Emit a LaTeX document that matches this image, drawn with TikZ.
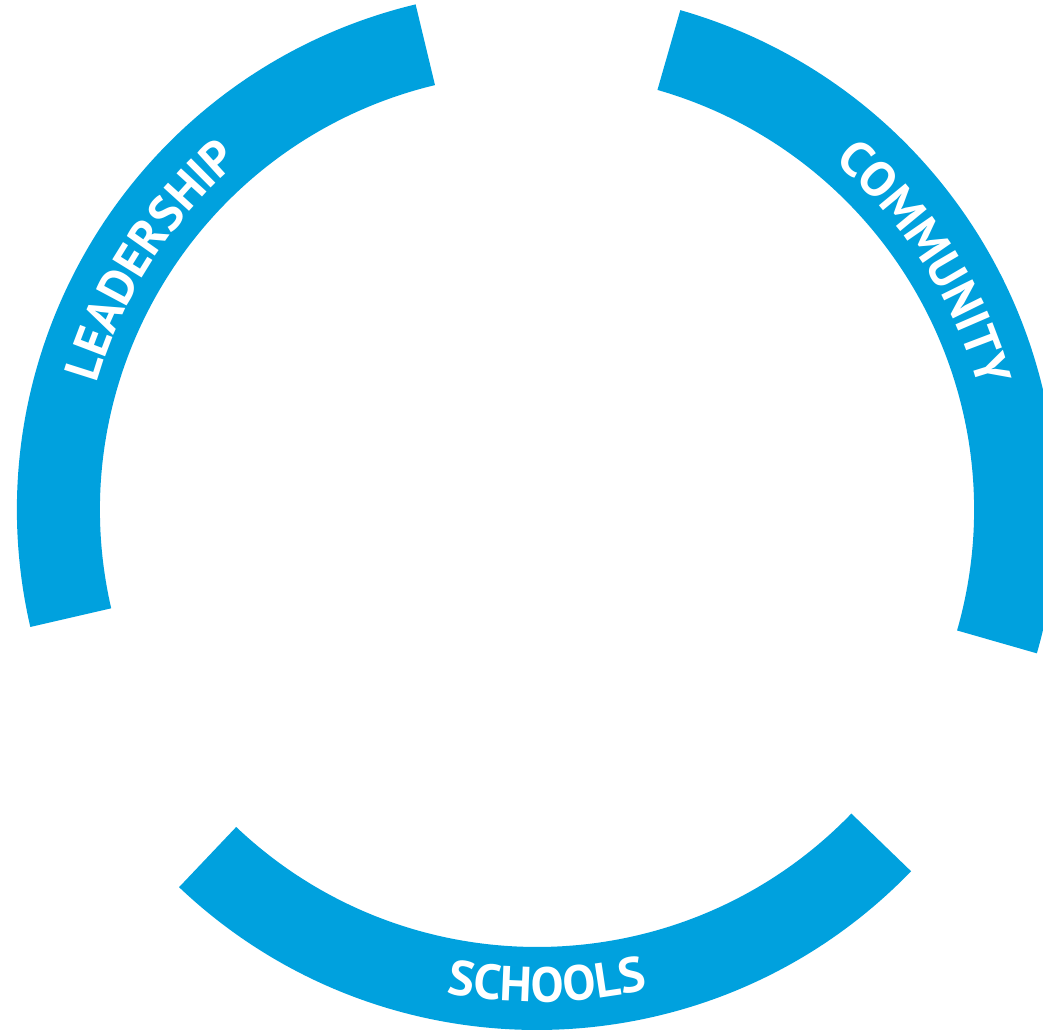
\documentclass[tikz,border=0pt]{standalone}
\usepackage{fontspec}
\newfontfamily\ringfont{PT Sans}
\usetikzlibrary{decorations.text}
\definecolor{ringblue}{RGB}{0,161,222}
\tikzset{band/.style={fill=ringblue}}
\newcommand{\ringlabel}{\ringfont\bfseries\fontsize{28}{28}\selectfont}

\begin{document}
\begin{tikzpicture}[x=0.02cm, y=0.02cm,
    arclabel/.style={decorate, decoration={text along path, text color=white, text align=center, text={|\ringlabel|#1}}}]
    \useasboundingbox (-537,-524) rectangle (506,510);
    % the three pieces of the ring
    \foreach \a/\b in {103.5/193, -16/74, 226.5/316}
      \fill[band] (\a:520) arc[start angle=\a, end angle=\b, radius=520]
        -- (\b:437) arc[start angle=\b, end angle=\a, radius=437] -- cycle;
    % words set along the ring
    \path[arclabel=LEADERSHIP] (191:458) arc[start angle=191, end angle=103.5, radius=458];
    \path[arclabel=COMMUNITY] (74:458) arc[start angle=74, end angle=-9, radius=458];
    \path[arclabel=SCHOOLS] (226.5:492) arc[start angle=226.5, end angle=316, radius=492];
\end{tikzpicture}
\end{document}
